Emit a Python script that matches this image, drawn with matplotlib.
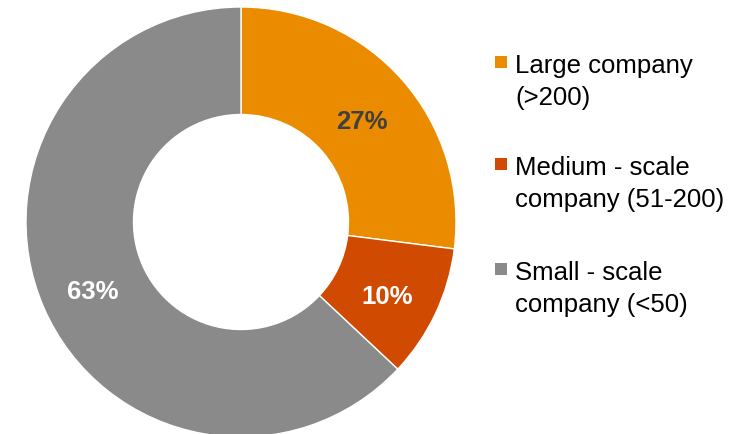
import matplotlib.pyplot as plt
from matplotlib.patches import Rectangle

plt.rcParams['font.family'] = ['Liberation Sans', 'DejaVu Sans']

# Company size shares
categories = [['Large company', '(>200)'],
              ['Medium - scale', 'company (51-200)'],
              ['Small - scale', 'company (<50)']]
shares = [27, 10, 63]
colors = ['#EB8C00', '#D04A02', '#8A8A8A']
label_colors = ['#404040', 'white', 'white']

W, H = 756, 435
fig = plt.figure(figsize=(W / 100, H / 100), dpi=100)

# donut centred at (241, 223) px with a 215 px radius
ax = fig.add_axes([26 / W, (H - 438) / H, 430 / W, 430 / H])
wedges, texts, autotexts = ax.pie(
    shares, colors=colors, startangle=90, counterclock=False,
    autopct='%d%%', pctdistance=0.75, radius=1.0,
    wedgeprops=dict(width=0.5, edgecolor='white', linewidth=1),
)
for t, c in zip(autotexts, label_colors):
    t.set_color(c)
    t.set_fontsize(18.5)
    t.set_fontweight('bold')
    x, y = t.get_position()
    t.set_position((x, y - 0.025))
ax.set_xlim(-1, 1)
ax.set_ylim(-1, 1)
ax.set_aspect('equal')
ax.axis('off')

# legend drawn by hand: square beside the first line of each label
baselines = [73, 175, 280]
for lines, c, y in zip(categories, colors, baselines):
    fig.patches.append(Rectangle((495 / W, 1 - (y - 4) / H), 12 / W, 12 / H,
                                 transform=fig.transFigure, facecolor=c, edgecolor='none'))
    for i, line in enumerate(lines):
        fig.text(515 / W, 1 - (y + 32 * i) / H, line, fontsize=18.5, color='black',
                 ha='left', va='baseline')

fig.savefig('out.png', dpi=100)
